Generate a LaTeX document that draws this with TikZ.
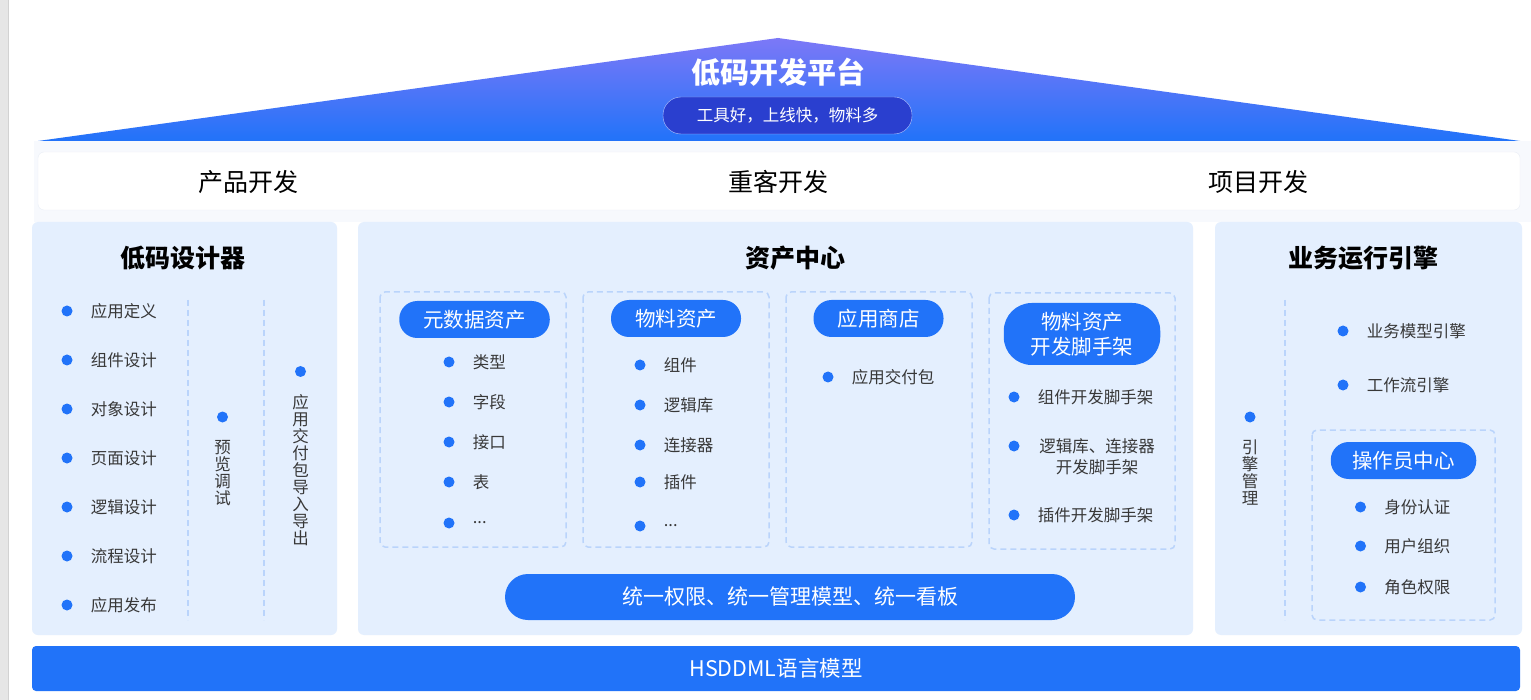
\documentclass[tikz,border=0pt]{standalone}
\usepackage{fontspec}
\setmainfont{Noto Sans CJK SC}
\usetikzlibrary{positioning}

\definecolor{mainblue}{HTML}{2173F9}
\definecolor{topviolet}{HTML}{7C78F7}
\definecolor{pillnavy}{HTML}{2A3FCF}
\definecolor{sloganline}{HTML}{B3C6FF}
\definecolor{panelbg}{HTML}{E4EFFE}
\definecolor{dashblue}{HTML}{BAD4FB}
\definecolor{itemgray}{HTML}{383838}
\definecolor{glow}{HTML}{F7F9FD}
\definecolor{bandline}{HTML}{EAEEF6}
\definecolor{sidegray}{HTML}{E6E6E6}
\definecolor{sideline}{HTML}{D2D2D2}

\begin{document}
\begin{tikzpicture}[x=1pt, y=-1pt, node distance=18pt,
	every node/.style={inner sep=0pt},
	panel/.style={fill=panelbg, rounded corners=6pt},
	heading/.style={text=black, font=\fontsize{25}{30}\selectfont\bfseries},
	bandtext/.style={text=black, font=\fontsize{25}{30}\selectfont},
	pill/.style={fill=mainblue, text=white, rounded corners=18pt, inner xsep=24pt,
		minimum height=37pt, font=\fontsize{20.5}{25}\selectfont},
	blt/.style={circle, fill=mainblue, minimum size=11pt},
	entry/.style={text=itemgray, font=\fontsize{16.5}{21}\selectfont},
	vtext/.style={text=itemgray, align=center, font=\fontsize{16.5}{17}\selectfont},
	dashline/.style={draw=dashblue, line width=1.5pt, dash pattern=on 6pt off 4pt},
	group/.style={dashline, rounded corners=5pt}
	]
% \draw[help lines] (0,0) grid (1531,700);
\path[use as bounding box, fill=white] (0,0) rectangle (1531,700);
\fill[sidegray] (0,0) rectangle (8,700);
\draw[sideline] (8.5,0) -- (8.5,700);
\fill[glow] (34,141) rectangle (1531,222);

% roof
\coordinate (apex) at (778,38);
\coordinate (baseL) at (38,141);
\coordinate (baseR) at (1520,141);
\shade[top color=topviolet, bottom color=mainblue] (apex) -- (baseR) -- (baseL) -- cycle;
\node[text=white, font=\fontsize{29}{34}\selectfont\bfseries] (platform) at (778,72) {低码开发平台};
\node[fill=pillnavy, draw=sloganline, text=white, rounded corners=18pt, minimum width=249pt,
	minimum height=37pt, font=\fontsize{16.5}{20}\selectfont] (slogan) at (787.5,115.5) {工具好，上线快，物料多};

% band
\draw[fill=white, draw=bandline, rounded corners=6pt] (38,152) rectangle (1520,210);
\node[bandtext] (prod) at (248,182) {产品开发};
\node[bandtext] (heavy) at (778,182) {重客开发};
\node[bandtext] (proj) at (1258,182) {项目开发};

% panels
\path[panel] (32,222) rectangle (337,635);
\path[panel] (358,222) rectangle (1193,635);
\path[panel] (1215,222) rectangle (1522,635);
\node[heading] (designer) at (183,258) {低码设计器};
\node[heading] (assets) at (795,258) {资产中心};
\node[heading] (runtime) at (1363,258) {业务运行引擎};

% left panel
\node[blt] (l1) at (67,311) {};
\node[entry, right=of l1] (lt1) {应用定义};
\node[blt] (l2) at (67,360) {};
\node[entry, right=of l2] (lt2) {组件设计};
\node[blt] (l3) at (67,409) {};
\node[entry, right=of l3] (lt3) {对象设计};
\node[blt] (l4) at (67,458) {};
\node[entry, right=of l4] (lt4) {页面设计};
\node[blt] (l5) at (67,507) {};
\node[entry, right=of l5] (lt5) {逻辑设计};
\node[blt] (l6) at (67,556) {};
\node[entry, right=of l6] (lt6) {流程设计};
\node[blt] (l7) at (67,605) {};
\node[entry, right=of l7] (lt7) {应用发布};

\coordinate (s1t) at (188,300);
\coordinate (s1b) at (188,620);
\coordinate (s2t) at (264,300);
\coordinate (s2b) at (264,620);
\draw[dashline] (s1t) -- (s1b);
\draw[dashline] (s2t) -- (s2b);

\node[blt] (pv) at (222.5,417) {};
\node[vtext, below=17pt of pv] (pvt) {预\\览\\调\\试};
\node[blt] (ex) at (300.5,371.5) {};
\node[vtext, below=17pt of ex] (ext) {应\\用\\交\\付\\包\\导\\入\\导\\出};

% asset groups
\draw[group] (380,292) rectangle (566,547);
\draw[group] (583,292) rectangle (769,547);
\draw[group] (786,292) rectangle (972,547);
\draw[group] (989,293) rectangle (1175,549);

\node[pill] (meta) at (474.5,319.5) {元数据资产};
\node[blt] (m1) at (449,362) {};
\node[entry, right=of m1] (mt1) {类型};
\node[blt] (m2) at (449,402) {};
\node[entry, right=of m2] (mt2) {字段};
\node[blt] (m3) at (449,442) {};
\node[entry, right=of m3] (mt3) {接口};
\node[blt] (m4) at (449,482) {};
\node[entry, right=of m4] (mt4) {表};
\node[blt] (m5) at (449,523) {};
\node[entry, right=of m5] (mt5) {...};

\node[pill] (mat) at (676,318.5) {物料资产};
\node[blt] (a1) at (640,365) {};
\node[entry, right=of a1] (at1) {组件};
\node[blt] (a2) at (640,405) {};
\node[entry, right=of a2] (at2) {逻辑库};
\node[blt] (a3) at (640,445) {};
\node[entry, right=of a3] (at3) {连接器};
\node[blt] (a4) at (640,482) {};
\node[entry, right=of a4] (at4) {插件};
\node[blt] (a5) at (640,526) {};
\node[entry, right=of a5] (at5) {...};

\node[pill] (store) at (878.5,318.5) {应用商店};
\node[blt] (p1) at (828,377) {};
\node[entry, right=of p1] (pt1) {应用交付包};

\node[pill, align=center, rounded corners=28pt, inner xsep=27pt, minimum height=62pt] (scaf) at (1082,334) {物料资产\\开发脚手架};
\node[blt] (c1) at (1014,397) {};
\node[entry, right=of c1] (ct1) {组件开发脚手架};
\node[blt] (c2) at (1014,446) {};
\node[entry, align=center] (ct2) at (1097,456.5) {逻辑库、连接器\\开发脚手架};
\node[blt] (c3) at (1014,515) {};
\node[entry, right=of c3] (ct3) {插件开发脚手架};

\node[pill, minimum width=570pt, minimum height=46pt, rounded corners=23pt,
	font=\fontsize{21}{25}\selectfont] (unify) at (790,597) {统一权限、统一管理模型、统一看板};

% right panel
\coordinate (s3t) at (1285,300);
\coordinate (s3b) at (1285,620);
\draw[dashline] (s3t) -- (s3b);
\node[blt] (em) at (1250,417) {};
\node[vtext, below=17pt of em] (emt) {引\\擎\\管\\理};

\node[blt] (r1) at (1343,331) {};
\node[entry, right=of r1] (rt1) {业务模型引擎};
\node[blt] (r2) at (1343,385) {};
\node[entry, right=of r2] (rt2) {工作流引擎};

\draw[group] (1312,430) rectangle (1495,620);
\node[pill, inner xsep=21.5pt] (oper) at (1403.5,460.5) {操作员中心};
\node[blt] (o1) at (1360.5,507) {};
\node[entry, right=of o1] (ot1) {身份认证};
\node[blt] (o2) at (1360.5,546) {};
\node[entry, right=of o2] (ot2) {用户组织};
\node[blt] (o3) at (1360.5,587) {};
\node[entry, right=of o3] (ot3) {角色权限};

% base
\node[fill=mainblue, text=white, rounded corners=4pt, minimum width=1488pt, minimum height=45pt,
	font=\fontsize{21.5}{26}\selectfont] (lang) at (776,668.5) {HSDDML语言模型};
\end{tikzpicture}
\end{document}
